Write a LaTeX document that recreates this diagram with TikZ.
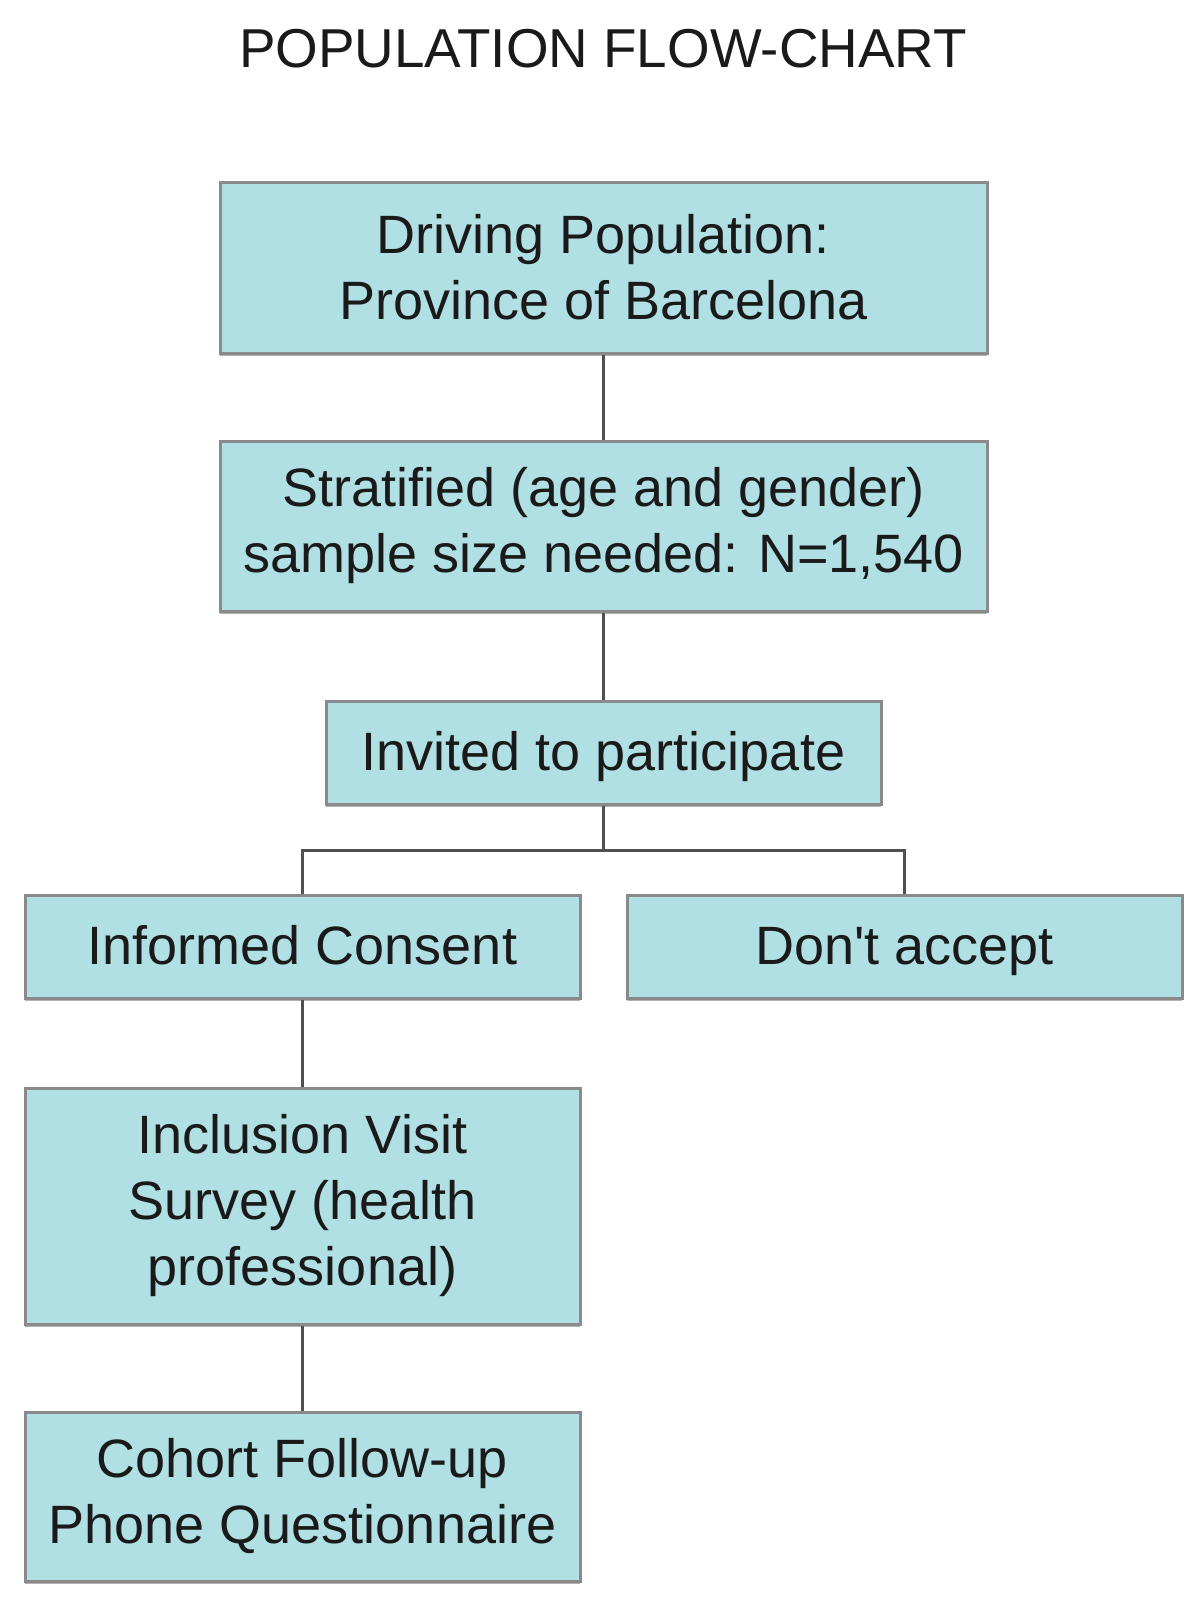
\documentclass[tikz,border=0pt]{standalone}
\usepackage{fontspec}
\setmainfont{Liberation Sans}
\usepackage{tikz}
\usetikzlibrary{positioning, shadows}
\definecolor{fboxfill}{HTML}{B0E0E4}
\definecolor{fboxline}{HTML}{8A8A8A}
\definecolor{flink}{HTML}{505050}
\definecolor{ftext}{HTML}{1A1A1A}
\tikzset{
  fbox/.style={draw=fboxline, fill=fboxfill, line width=1.5pt, align=center,
               text=ftext, font=\fontsize{27}{33}\selectfont, inner sep=0pt,
               drop shadow={shadow xshift=0pt, shadow yshift=-1.5pt, fill=black!30, opacity=1}},
  fline/.style={fbox, text height=19.3pt, text depth=1.5pt},
  flinks/.style={draw=flink, line width=1.5pt},
}

\begin{document}
\begin{tikzpicture}[x=0.5pt, y=-0.5pt]
  \useasboundingbox (0,0) rectangle (1200,1617);

  %% Title
  \node[font=\fontsize{27.4}{33}\selectfont, text=ftext] (title) at (603,49) {POPULATION FLOW-CHART};

  %% Main column
  \node[fbox, minimum width=383.5pt, minimum height=85.5pt] (drivers) at (603.5,267.5)
    {Driving Population:\\Province of Barcelona};
  \node[fbox, minimum width=383.5pt, minimum height=85pt] (sample) at (603.5,526)
    {Stratified (age and gender)\\sample size needed: N=1,540};
  \node[fline, minimum width=277.5pt, minimum height=51.5pt] (invited) at (603.5,752.5)
    {Invited to participate};

  %% Branches
  \node[fline, minimum width=277.5pt, minimum height=51.5pt] (consent) at (302.5,946.5)
    {Informed Consent};
  \node[fline, minimum width=277.5pt, minimum height=51.5pt] (refuse) at (904.5,946.5)
    {Don\textquotesingle t accept};
  \node[fbox, minimum width=277.5pt, minimum height=118pt] (visit) at (302.5,1206)
    {Inclusion Visit\\Survey (health\\professional)};
  \node[fbox, minimum width=277.5pt, minimum height=84.5pt] (cohort) at (302.5,1496.5)
    {Cohort Follow-up\\Phone Questionnaire};

  \coordinate (fork) at (603.5,850);

  %% Connectors
  \draw[flinks] (drivers.south) -- (sample.north);
  \draw[flinks] (sample.south) -- (invited.north);
  \draw[flinks] (invited.south) -- (fork);
  \draw[flinks] (consent.north) |- (fork) -| (refuse.north);
  \draw[flinks] (consent.south) -- (visit.north);
  \draw[flinks] (visit.south) -- (cohort.north);

\end{tikzpicture}
\end{document}
